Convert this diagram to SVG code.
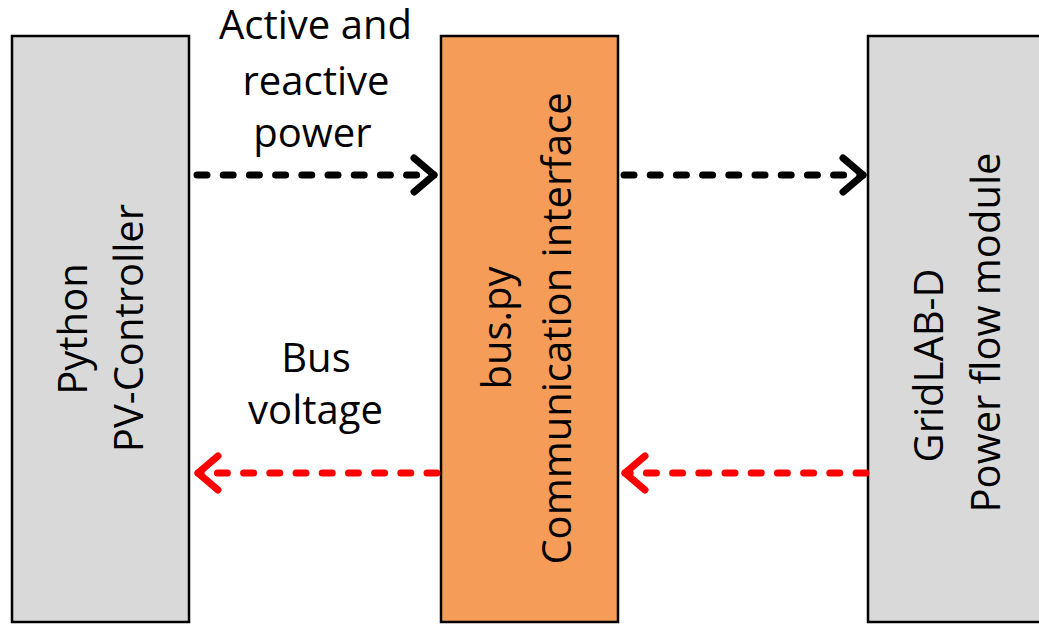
<svg xmlns="http://www.w3.org/2000/svg" width="1039" height="625" viewBox="0 0 1039 625">
<style>
.box{stroke:#000;stroke-width:2.5}
.grey{fill:#D9D9D9}
.orange{fill:#F59D58}
.t{font-family:"Open Sans","Liberation Sans",sans-serif;font-size:40px;fill:#000;text-anchor:middle}
.dk{fill:none;stroke:#000;stroke-width:7;stroke-linecap:round;stroke-dasharray:10 16.2}
.dr{fill:none;stroke:#FF0000;stroke-width:7;stroke-linecap:round;stroke-dasharray:10 16.2}
</style>
<defs>
<marker id="chevK" markerUnits="userSpaceOnUse" viewBox="-26 -22 32 44" markerWidth="32" markerHeight="44" refX="0" refY="0" orient="auto" overflow="visible">
<path d="M -20 -17 L 0 0 L -20 17" fill="none" stroke="#000" stroke-width="7" stroke-linecap="round" stroke-linejoin="round"/>
</marker>
<marker id="chevR" markerUnits="userSpaceOnUse" viewBox="-26 -22 32 44" markerWidth="32" markerHeight="44" refX="0" refY="0" orient="auto" overflow="visible">
<path d="M -20 -17 L 0 0 L -20 17" fill="none" stroke="#FF0000" stroke-width="7" stroke-linecap="round" stroke-linejoin="round"/>
</marker>
</defs>
<rect width="1039" height="625" fill="#fff"/>
<g id="node-python">
<rect class="box grey" x="12" y="36" width="177" height="586"/>
<text class="t" transform="translate(87,329) rotate(-90)">Python</text>
<text class="t" transform="translate(143,328) rotate(-90)">PV-Controller</text>
</g>
<g id="node-bus">
<rect class="box orange" x="441" y="36" width="177" height="586"/>
<text class="t" transform="translate(511,328) rotate(-90)">bus.py</text>
<text class="t" transform="translate(571,328.5) rotate(-90)">Communication interface</text>
</g>
<g id="node-gridlabd">
<rect class="box grey" x="868" y="36" width="190" height="586"/>
<text class="t" transform="translate(943,365.5) rotate(-90)">GridLAB-D</text>
<text class="t" transform="translate(1000,332.5) rotate(-90)">Power flow module</text>
</g>
<g id="connectors">
<line class="dk" x1="197" y1="175" x2="434" y2="175" marker-end="url(#chevK)"/>
<line class="dk" x1="624" y1="175" x2="863" y2="175" marker-end="url(#chevK)"/>
<line class="dr" x1="437" y1="473" x2="198" y2="473" marker-end="url(#chevR)"/>
<line class="dr" x1="866" y1="473" x2="625" y2="473" marker-end="url(#chevR)"/>
</g>
<g id="labels">
<text class="t" x="315.5" y="39">Active and</text>
<text class="t" x="316" y="95">reactive</text>
<text class="t" x="312.5" y="147">power</text>
<text class="t" x="316" y="372">Bus</text>
<text class="t" x="315.5" y="424">voltage</text>
</g>
</svg>
